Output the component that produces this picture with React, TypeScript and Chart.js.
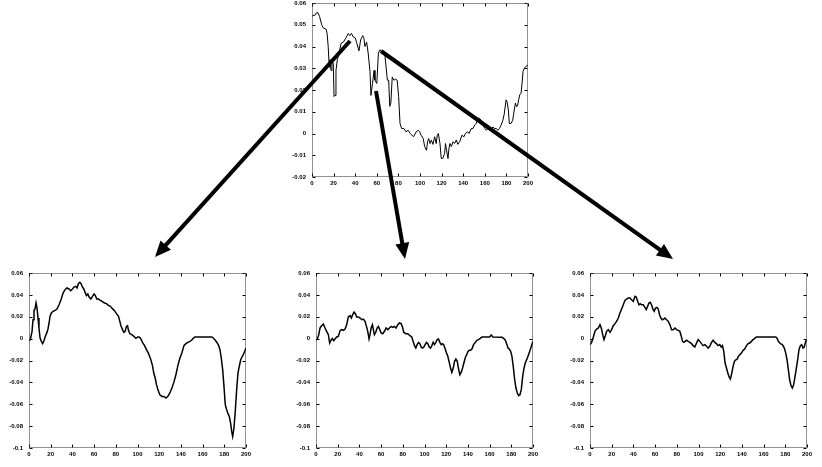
import React, { useEffect, useRef } from "react";
import { Chart, registerables } from "chart.js";
Chart.register(...registerables);

// ---------- tick labels ----------
const xTicks = [0, 20, 40, 60, 80, 100, 120, 140, 160, 180, 200];
const yTicksTop = [-0.02, -0.01, 0, 0.01, 0.02, 0.03, 0.04, 0.05, 0.06];
const yTicksBottom = [-0.1, -0.08, -0.06, -0.04, -0.02, 0, 0.02, 0.04, 0.06];

// ---------- top panel (original signal) ----------
const topX = [0, 3, 4.5, 5.5, 7, 9, 10.5, 13, 14, 15, 16, 16.6, 17.6, 18.5, 19.7, 20.4, 21.3, 22.2, 23.5, 25, 27, 29, 31.5, 33.6, 35, 36.6, 38, 40, 41.5, 43.5, 45, 47, 48, 49, 50.6, 52, 53.7, 54.6, 56, 57.5, 58.3, 60, 61.5, 63, 65.5, 67.6, 69.8, 71, 72, 73, 74.3, 75.9, 77.4, 78.9, 80.2, 81.5, 83, 85, 87, 89, 91, 94, 96.5, 98.5, 99.7, 101, 103, 104.3, 106, 107, 108, 109.3, 110.5, 112, 113.6, 115, 116, 117, 118.5, 119.7, 121, 122.8, 123.6, 124.6, 125.9, 126.8, 127.7, 129, 130.6, 132, 133.6, 135, 136.7, 138.8, 140.7, 142, 144, 145.4, 147.5, 149, 150.6, 152, 153.7, 155, 156.8, 158.3, 160, 161.4, 163, 164.5, 166, 167.6, 169, 170.7, 172, 173.6, 175, 176.7, 178, 179.7, 180.6, 181.8, 182.7, 184.3, 185.8, 187.3, 188.3, 189.5, 190.4, 191.4, 192.3, 193.6, 194.5, 195.4, 196.6, 198.4, 200];
const topY = [0.054, 0.0545, 0.0557, 0.0555, 0.0538, 0.05, 0.0485, 0.048, 0.046, 0.04, 0.0305, 0.034, 0.029, 0.034, 0.032, 0.017, 0.0175, 0.029, 0.034, 0.037, 0.0415, 0.042, 0.044, 0.046, 0.045, 0.046, 0.0445, 0.044, 0.0415, 0.038, 0.043, 0.045, 0.044, 0.04, 0.042, 0.037, 0.0285, 0.0175, 0.023, 0.029, 0.0245, 0.023, 0.037, 0.0385, 0.037, 0.0355, 0.0245, 0.0245, 0.0125, 0.014, 0.026, 0.0245, 0.025, 0.0245, 0.017, 0.0046, 0.0023, 0.0023, 0.0008, 0.0015, 0, -0.0015, 0.0008, 0.0015, 0.0008, -0.0008, -0.0023, -0.006, -0.0077, -0.0038, -0.0023, -0.0046, -0.003, -0.005, -0.0015, -0.0046, -0.0008, 0, -0.0046, -0.0115, -0.0115, -0.0092, -0.0046, -0.0077, -0.0115, -0.007, -0.0046, -0.006, -0.0038, -0.0046, -0.003, -0.005, -0.0038, -0.0008, -0.0015, 0, 0.0008, 0, 0.0023, 0.0023, 0.0038, 0.0046, 0.007, 0.007, 0.006, 0.0038, 0.0023, 0.0015, 0.0023, 0.003, 0.0023, 0.003, 0.0023, 0.0023, 0.0015, 0.0023, 0.0038, 0.006, 0.009, 0.0155, 0.0146, 0.0108, 0.0046, 0.0046, 0.006, 0.0108, 0.014, 0.0123, 0.013, 0.0155, 0.0177, 0.0185, 0.023, 0.0285, 0.03, 0.031, 0.0315];

// ---------- bottom-left panel ----------
const leftX = [0, 1.2, 2.8, 3.7, 4.6, 5.5, 6.5, 7.4, 8.3, 9.2, 10.2, 11.4, 12.6, 13.8, 15, 16.3, 17.5, 18.5, 19.4, 20.6, 22.2, 24, 25.8, 27.7, 29.5, 31.4, 33.2, 35, 36.9, 38.5, 40, 41.5, 43, 44.3, 45.5, 46.8, 48, 49.2, 50.5, 51.7, 52.9, 54.2, 55.4, 57, 58.5, 60, 61.2, 62.5, 64, 65.8, 67.7, 69.5, 71.4, 73.2, 75, 76.9, 78.8, 80.6, 82.5, 83.7, 84.9, 86.2, 87.4, 88.6, 89.8, 90.8, 91.7, 92.9, 94.8, 96.6, 98.5, 100.3, 101.5, 102.8, 104.6, 106.5, 108.3, 110.2, 112, 113.8, 115, 116.3, 117.5, 119, 120.6, 122.5, 124.3, 126.2, 128, 129.8, 131.7, 133.5, 135.4, 137.2, 139.1, 140.9, 142.8, 144.6, 146.5, 148.3, 149.8, 151.4, 152.9, 168.6, 169.8, 171.7, 173.5, 174.8, 176, 177.2, 178.5, 179.7, 180.9, 182.2, 183.4, 184.6, 185.8, 186.8, 187.7, 188.9, 190.2, 191.4, 192.6, 193.8, 195.1, 196.3, 197.5, 198.8, 200];
const leftY = [-0.0015, -0.001, 0.0066, 0.0173, 0.0259, 0.027, 0.0326, 0.028, 0.0188, 0.0097, 0.0006, -0.0025, -0.0046, -0.0019, 0.002, 0.005, 0.0088, 0.0143, 0.0204, 0.0234, 0.025, 0.0259, 0.027, 0.031, 0.0356, 0.0417, 0.0448, 0.0463, 0.0454, 0.0438, 0.0454, 0.0472, 0.0478, 0.0463, 0.0502, 0.0515, 0.0502, 0.0472, 0.0454, 0.0423, 0.0393, 0.0408, 0.038, 0.0362, 0.0387, 0.0408, 0.0393, 0.0362, 0.0362, 0.035, 0.0338, 0.0326, 0.032, 0.0304, 0.0295, 0.0274, 0.0256, 0.0228, 0.0204, 0.0158, 0.0112, 0.0082, 0.0058, 0.0067, 0.0112, 0.0118, 0.0076, 0.0045, 0.0036, 0.0021, 0.0003, 0.0015, 0.0015, 0.0003, -0.0034, -0.0064, -0.0101, -0.0137, -0.0183, -0.0247, -0.0315, -0.036, -0.0421, -0.0473, -0.0513, -0.0528, -0.0528, -0.0543, -0.0528, -0.0497, -0.0452, -0.04, -0.033, -0.0247, -0.0177, -0.0132, -0.0064, -0.0046, -0.0034, -0.0025, -0.0015, 0.0003, 0.0015, 0.0015, 0.0006, -0.0015, -0.004, -0.0064, -0.0101, -0.0177, -0.0284, -0.0437, -0.0604, -0.065, -0.0686, -0.0711, -0.0772, -0.0848, -0.0894, -0.0818, -0.065, -0.0467, -0.0315, -0.0254, -0.0193, -0.0168, -0.0147, -0.0116, -0.0086];

// ---------- bottom-middle panel ----------
const midX = [0, 1.2, 2.5, 3.7, 5.2, 6.8, 8.3, 9.8, 11.4, 12.6, 13.8, 15, 16.3, 17.5, 19.1, 20.6, 22.2, 23.7, 25.2, 26.8, 28.3, 29.8, 31.4, 32.6, 33.8, 35.1, 36.3, 37.5, 39.1, 40.6, 42.2, 43.7, 45.2, 46.5, 47.7, 48.9, 49.8, 50.8, 52, 52.9, 53.8, 55.1, 56.3, 57.5, 58.8, 60, 61.5, 63.1, 64.6, 66.2, 67.7, 69.2, 70.8, 72.3, 73.8, 75.4, 76.9, 78.5, 79.7, 80.9, 82.8, 84.6, 86.5, 88.3, 89.5, 90.8, 92, 93.2, 94.5, 95.7, 96.9, 98.2, 99.4, 100.6, 101.8, 103.1, 104.3, 105.5, 106.8, 108, 109.2, 110.5, 111.7, 112.9, 114.2, 115.4, 116.6, 117.8, 119.1, 120.3, 121.5, 122.8, 124, 125.2, 126.5, 127.7, 128.9, 130.2, 131.4, 132.6, 133.8, 135.1, 136.3, 137.5, 138.8, 140, 141.2, 142.5, 143.7, 145.2, 146.8, 148.3, 149.8, 151.4, 152.9, 160, 161.5, 163, 171.4, 172.9, 174.5, 176, 176.9, 178.2, 179.4, 180.6, 181.8, 183.1, 184.3, 185.5, 186.8, 188, 189.2, 190.5, 191.7, 192.9, 194.8, 196.6, 198.5, 200];
const midY = [-0.0015, -0.0003, 0.0036, 0.0097, 0.0118, 0.0134, 0.0097, 0.0067, 0.0036, -0.004, -0.0015, 0, -0.0019, -0.0003, 0.0015, 0.0021, 0.0073, 0.0082, 0.0076, 0.0088, 0.0128, 0.0198, 0.021, 0.0188, 0.0219, 0.0243, 0.0228, 0.0198, 0.0198, 0.0188, 0.0173, 0.0179, 0.0158, 0.0112, 0.0067, -0.0003, 0.0036, 0.0097, 0.0128, 0.0082, 0.0036, 0.0058, 0.0097, 0.0112, 0.0082, 0.0052, 0.0045, 0.0067, 0.0097, 0.0082, 0.0097, 0.0112, 0.0103, 0.0112, 0.0097, 0.0128, 0.0143, 0.0137, 0.0106, 0.0058, 0.0045, 0.0045, 0.0027, 0.0015, -0.0025, -0.0064, -0.0086, -0.0055, -0.0034, -0.0046, -0.0077, -0.0086, -0.0077, -0.0055, -0.0034, -0.0046, -0.0077, -0.0086, -0.0064, -0.0034, -0.0055, -0.0034, -0.0009, -0.0003, -0.0034, -0.0055, -0.0046, -0.0058, -0.0095, -0.0132, -0.0162, -0.0217, -0.0269, -0.0309, -0.0269, -0.0208, -0.0187, -0.0208, -0.0278, -0.033, -0.0309, -0.0269, -0.0223, -0.0177, -0.0147, -0.012, -0.0107, -0.0107, -0.0095, -0.0055, -0.0034, -0.0015, -0.0009, 0.0003, 0.0015, 0.0015, 0.0033, 0.0015, 0.0012, 0.0003, -0.0015, -0.0055, -0.0086, -0.0095, -0.0116, -0.0162, -0.0254, -0.0376, -0.0452, -0.0497, -0.0522, -0.0513, -0.0467, -0.0345, -0.0269, -0.0223, -0.0177, -0.0126, -0.007, -0.0025];

// ---------- bottom-right panel ----------
const rightX = [0, 1.5, 3.1, 4.6, 6.1, 7.7, 9.2, 10.4, 11.7, 12.9, 14.1, 15.3, 16.9, 18.4, 19.9, 21.5, 23, 24.5, 26.1, 27.6, 29.1, 30.7, 32.2, 33.7, 35.3, 36.8, 38.3, 39.9, 41.4, 42.6, 43.9, 45.1, 46.3, 47.5, 49.1, 50.6, 51.8, 53.1, 54.3, 55.5, 56.7, 58, 59.2, 60.4, 61.7, 62.9, 64.1, 65.3, 66.6, 67.8, 69, 70.6, 72.1, 73.6, 75.2, 76.7, 78.2, 79.8, 81.3, 82.8, 84, 85.3, 86.5, 87.7, 89, 90.5, 92, 93.6, 95.1, 96.6, 98.2, 99.7, 101.2, 102.8, 104.3, 105.8, 107.4, 108.9, 110.4, 112, 113.5, 115, 116.6, 118.1, 119.6, 120.9, 122.1, 123.3, 124.5, 125.8, 127, 128.2, 129.4, 130.7, 131.9, 133.1, 134.4, 135.6, 136.8, 138, 139.6, 141.1, 142.6, 144.2, 145.7, 147.2, 148.8, 150.3, 151.8, 153.4, 171.2, 172.4, 173.6, 175.5, 177.3, 179.1, 180.4, 181.6, 182.8, 184, 185.3, 186.5, 187.7, 189, 190.2, 191.4, 192.6, 193.9, 195.1, 196.3, 197.5, 198.8, 200];
const rightY = [-0.0055, -0.0034, 0.0015, 0.0067, 0.0088, 0.0097, 0.0128, 0.0097, 0.0036, -0.0009, 0.0027, 0.0067, 0.0082, 0.0058, 0.0082, 0.0118, 0.0137, 0.0158, 0.0188, 0.0234, 0.027, 0.031, 0.035, 0.0362, 0.0371, 0.0371, 0.0356, 0.0341, 0.0387, 0.038, 0.0341, 0.031, 0.032, 0.031, 0.031, 0.0286, 0.0265, 0.0295, 0.0326, 0.0332, 0.031, 0.027, 0.025, 0.028, 0.0286, 0.027, 0.0219, 0.0188, 0.0173, 0.0179, 0.0188, 0.0173, 0.0158, 0.0128, 0.0082, 0.0082, 0.0097, 0.0082, 0.0076, 0.0067, 0.0027, -0.0025, -0.0034, -0.0025, -0.0015, -0.0025, -0.0034, -0.0046, -0.0064, -0.0077, -0.004, -0.0009, -0.0025, -0.0046, -0.0064, -0.0055, -0.007, -0.0086, -0.007, -0.0034, -0.0015, -0.0034, -0.0046, -0.0064, -0.0055, -0.0077, -0.0064, -0.0116, -0.0223, -0.0269, -0.0315, -0.0351, -0.037, -0.0315, -0.0254, -0.0208, -0.0193, -0.0187, -0.0162, -0.0147, -0.0132, -0.0107, -0.0095, -0.0064, -0.0046, -0.004, -0.0025, -0.0009, 0.0003, 0.0015, 0.0015, 0.0003, -0.0025, -0.0046, -0.0055, -0.0086, -0.0132, -0.0193, -0.0284, -0.0376, -0.0431, -0.0452, -0.0421, -0.0345, -0.0269, -0.0193, -0.0101, -0.0064, -0.0055, -0.0086, -0.0077, -0.0025, -0.0009];

// ---------- arrows (page pixel space) ----------
const arrowTailX = [350, 376, 381];
const arrowTailY = [41, 91, 51];
const arrowTipX = [155, 405, 673];
const arrowTipY = [257, 259, 259];

const FONT = { family: "'Liberation Sans', Arial, sans-serif", size: 6, weight: "bold" as const };

const framePlugin = {
  id: "frameTicks",
  afterDraw(chart: any) {
    const { ctx, chartArea: a, scales } = chart;
    if (!scales.x || !scales.y) return;
    const L = Math.round(a.left) + 0.5;
    const R = Math.round(a.right) - 0.5;
    const T = Math.round(a.top) + 0.5;
    const B = Math.round(a.bottom) - 0.5;
    ctx.save();
    ctx.strokeStyle = "#000";
    ctx.lineWidth = 1;
    ctx.beginPath();
    for (const t of scales.x.ticks) {
      const px = Math.round(scales.x.getPixelForValue(t.value)) + 0.5;
      ctx.moveTo(px, B);
      ctx.lineTo(px, B - 3);
      ctx.moveTo(px, T);
      ctx.lineTo(px, T + 3);
    }
    for (const t of scales.y.ticks) {
      const py = Math.round(scales.y.getPixelForValue(t.value)) + 0.5;
      ctx.moveTo(L, py);
      ctx.lineTo(L + 3, py);
      ctx.moveTo(R, py);
      ctx.lineTo(R - 3, py);
    }
    ctx.stroke();
    ctx.setLineDash([1, 1]);
    ctx.strokeStyle = "#222";
    ctx.strokeRect(L, T, R - L, B - T);
    ctx.restore();
  },
};

const fmt = (v: number) => String(Number(Number(v).toFixed(3)));

type PanelProps = {
  xs: number[];
  ys: number[];
  yTicks: number[];
  left: number;
  top: number;
  width: number;
  height: number;
  yAxisW: number;
  padTop: number;
  padRight: number;
  xAxisH: number;
  lineW: number;
};

function Panel(p: PanelProps) {
  const ref = useRef<HTMLCanvasElement | null>(null);
  useEffect(() => {
    if (!ref.current) return;
    const yMin = Math.min(...p.yTicks);
    const yMax = Math.max(...p.yTicks);
    const chart = new Chart(ref.current, {
      type: "line",
      data: {
        datasets: [
          {
            data: p.xs.map((x, i) => ({ x, y: p.ys[i] })),
            borderColor: "#000",
            borderWidth: p.lineW,
            pointRadius: 0,
            tension: 0,
            fill: false,
          },
        ],
      },
      options: {
        animation: false,
        responsive: false,
        events: [],
        layout: { padding: { top: p.padTop, right: p.padRight, left: 0, bottom: 0 } },
        plugins: { legend: { display: false }, tooltip: { enabled: false } },
        scales: {
          x: {
            type: "linear",
            min: 0,
            max: 200,
            grid: { display: false, drawTicks: false },
            border: { display: false },
            afterBuildTicks: (s: any) => {
              s.ticks = xTicks.map((v) => ({ value: v }));
            },
            afterFit: (s: any) => {
              s.height = p.xAxisH;
              s.paddingLeft = 0;
              s.paddingRight = 0;
            },
            ticks: {
              font: FONT,
              color: "#000",
              padding: 3,
              maxRotation: 0,
              autoSkip: false,
              callback: (v: any) => fmt(v),
            },
          },
          y: {
            type: "linear",
            min: yMin,
            max: yMax,
            grid: { display: false, drawTicks: false },
            border: { display: false },
            afterBuildTicks: (s: any) => {
              s.ticks = p.yTicks.map((v) => ({ value: v }));
            },
            afterFit: (s: any) => {
              s.width = p.yAxisW;
              s.paddingTop = 0;
              s.paddingBottom = 0;
            },
            ticks: {
              font: FONT,
              color: "#000",
              padding: 6,
              autoSkip: false,
              callback: (v: any) => fmt(v),
            },
          },
        },
      } as any,
      plugins: [framePlugin],
    });
    return () => chart.destroy();
  }, []);
  return (
    <canvas
      ref={ref}
      width={p.width}
      height={p.height}
      style={{ position: "absolute", left: p.left, top: p.top, width: p.width, height: p.height }}
    />
  );
}

const arrowHeadPlugin = {
  id: "arrowHeads",
  afterDatasetsDraw(chart: any) {
    const { ctx, scales } = chart;
    ctx.save();
    ctx.fillStyle = "#000";
    for (let i = 0; i < arrowTipX.length; i++) {
      const tx = scales.x.getPixelForValue(arrowTipX[i]);
      const ty = scales.y.getPixelForValue(arrowTipY[i]);
      const sx = scales.x.getPixelForValue(arrowTailX[i]);
      const sy = scales.y.getPixelForValue(arrowTailY[i]);
      const dx = tx - sx;
      const dy = ty - sy;
      const len = Math.hypot(dx, dy);
      const ux = dx / len;
      const uy = dy / len;
      const hl = 16;
      const hw = 7;
      const bx = tx - ux * hl;
      const by = ty - uy * hl;
      ctx.beginPath();
      ctx.moveTo(tx, ty);
      ctx.lineTo(bx - uy * hw, by + ux * hw);
      ctx.lineTo(bx + uy * hw, by - ux * hw);
      ctx.closePath();
      ctx.fill();
    }
    ctx.restore();
  },
};

function Arrows() {
  const ref = useRef<HTMLCanvasElement | null>(null);
  useEffect(() => {
    if (!ref.current) return;
    const datasets = arrowTailX.map((_, i) => {
      const dx = arrowTipX[i] - arrowTailX[i];
      const dy = arrowTipY[i] - arrowTailY[i];
      const len = Math.hypot(dx, dy);
      const back = 12;
      return {
        data: [
          { x: arrowTailX[i], y: arrowTailY[i] },
          { x: arrowTipX[i] - (dx / len) * back, y: arrowTipY[i] - (dy / len) * back },
        ],
        borderColor: "#000",
        borderWidth: 4,
        pointRadius: 0,
        showLine: true,
        tension: 0,
      };
    });
    const chart = new Chart(ref.current, {
      type: "scatter",
      data: { datasets },
      options: {
        animation: false,
        responsive: false,
        events: [],
        layout: { padding: 0 },
        plugins: { legend: { display: false }, tooltip: { enabled: false } },
        scales: {
          x: { type: "linear", min: 0, max: 822, display: false },
          y: { type: "linear", min: 0, max: 467, reverse: true, display: false },
        },
      } as any,
      plugins: [arrowHeadPlugin],
    });
    return () => chart.destroy();
  }, []);
  return (
    <canvas
      ref={ref}
      width={822}
      height={467}
      style={{ position: "absolute", left: 0, top: 0, width: 822, height: 467, pointerEvents: "none" }}
    />
  );
}

export default function App() {
  return (
    <div
      style={{
        position: "fixed",
        left: 0,
        top: 0,
        width: 822,
        height: 467,
        background: "#fff",
        overflow: "hidden",
      }}
    >
      <Panel xs={topX} ys={topY} yTicks={yTicksTop} left={270} top={0} width={270} height={200}
        yAxisW={42} padTop={3} padRight={12} xAxisH={23} lineW={1} />
      <Panel xs={leftX} ys={leftY} yTicks={yTicksBottom} left={0} top={250} width={260} height={217}
        yAxisW={29} padTop={23} padRight={14} xAxisH={19} lineW={1.5} />
      <Panel xs={midX} ys={midY} yTicks={yTicksBottom} left={280} top={250} width={270} height={217}
        yAxisW={36} padTop={23} padRight={17} xAxisH={19} lineW={1.5} />
      <Panel xs={rightX} ys={rightY} yTicks={yTicksBottom} left={560} top={250} width={262} height={217}
        yAxisW={30} padTop={23} padRight={15} xAxisH={19} lineW={1.5} />
      <Arrows />
    </div>
  );
}
